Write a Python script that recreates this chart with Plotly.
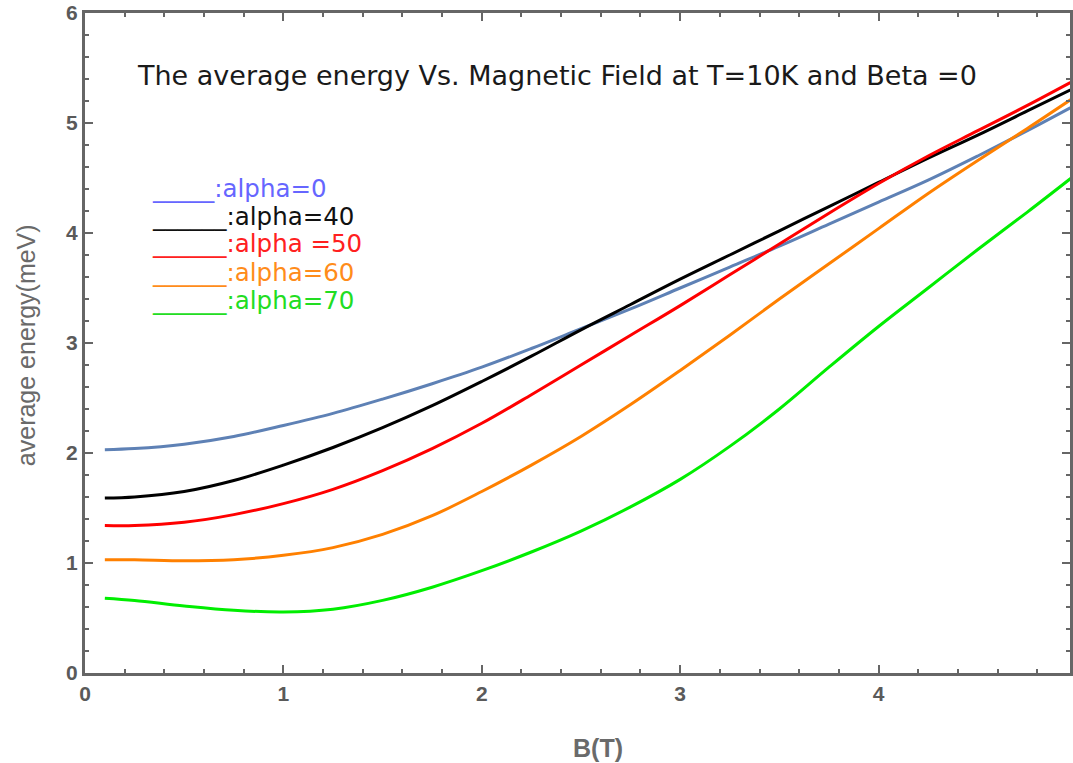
import plotly.graph_objects as go

# Magnetic field values (T)
B = [0.1, 0.25, 0.5, 0.75, 1.0, 1.25, 1.5, 1.75, 2.0, 2.25, 2.5,
     2.75, 3.0, 3.25, 3.5, 3.75, 4.0, 4.25, 4.5, 4.75, 5.0]

# Average energy (meV) for each alpha
E_alpha0 = [2.03, 2.04, 2.08, 2.15, 2.25, 2.36, 2.49, 2.63, 2.78, 2.95, 3.13,
            3.31, 3.50, 3.69, 3.88, 4.08, 4.28, 4.48, 4.70, 4.93, 5.17]
E_alpha40 = [1.59, 1.60, 1.65, 1.75, 1.89, 2.05, 2.23, 2.43, 2.65, 2.88, 3.12,
             3.35, 3.58, 3.80, 4.02, 4.24, 4.46, 4.68, 4.89, 5.11, 5.33]
E_alpha50 = [1.34, 1.34, 1.37, 1.44, 1.54, 1.67, 1.84, 2.04, 2.27, 2.53, 2.80,
             3.07, 3.34, 3.62, 3.90, 4.18, 4.45, 4.70, 4.93, 5.16, 5.40]
E_alpha60 = [1.03, 1.03, 1.02, 1.03, 1.07, 1.14, 1.26, 1.43, 1.65, 1.89, 2.15,
             2.44, 2.75, 3.07, 3.40, 3.72, 4.04, 4.36, 4.66, 4.95, 5.25]
E_alpha70 = [0.68, 0.66, 0.61, 0.57, 0.555, 0.58, 0.66, 0.78, 0.93, 1.10, 1.29,
             1.51, 1.76, 2.06, 2.40, 2.78, 3.15, 3.50, 3.85, 4.19, 4.54]

series = [
    (E_alpha0, "#5E81B5"),
    (E_alpha40, "#000000"),
    (E_alpha50, "#FF0000"),
    (E_alpha60, "#FF8000"),
    (E_alpha70, "#00EE00"),
]

legend_labels = ["_____:alpha=0", "______:alpha=40", "______:alpha =50",
                 "______:alpha=60", "______:alpha=70"]
legend_colors = ["#6666FF", "#111111", "#FF2020", "#FF8C1A", "#22DD22"]

x_ticks = [0, 1, 2, 3, 4]
y_ticks = [0, 1, 2, 3, 4, 5, 6]

fig = go.Figure()
for ys, col in series:
    fig.add_trace(go.Scatter(x=B, y=ys, mode="lines", line_shape="spline",
                             line=dict(color=col, width=3), showlegend=False))

frame = "#666666"
tickfont = dict(family="Liberation Sans, Arial, sans-serif", size=21,
                color="#5a5a5a", weight="bold")

fig.update_xaxes(range=[0, 4.965], tickvals=x_ticks, ticks="inside", ticklen=8,
                 tickwidth=2, tickcolor=frame, showline=True, linecolor=frame,
                 linewidth=3, mirror="allticks", showgrid=False, zeroline=False,
                 minor=dict(dtick=0.2, ticks="inside", ticklen=4, tickwidth=2,
                            tickcolor=frame),
                 tickfont=tickfont)
fig.update_yaxes(range=[0, 6], tickvals=y_ticks, ticks="inside", ticklen=8,
                 tickwidth=2, tickcolor=frame, showline=True, linecolor=frame,
                 linewidth=3, mirror="allticks", showgrid=False, zeroline=False,
                 minor=dict(dtick=0.2, ticks="inside", ticklen=4, tickwidth=2,
                            tickcolor=frame),
                 tickfont=tickfont)

# axis labels
fig.add_annotation(text="<b>B(T)</b>", xref="paper", yref="paper",
                   x=(600 - 85) / 988, y=(673 - 748) / 660,
                   xanchor="center", yanchor="middle", showarrow=False,
                   font=dict(family="Liberation Sans, Arial, sans-serif",
                             size=25, color="#6a6a6a"))
fig.add_annotation(text="average energy(meV)", xref="paper", yref="paper",
                   x=(26 - 85) / 988, y=(673 - 345) / 660, textangle=-90,
                   xanchor="center", yanchor="middle", showarrow=False,
                   font=dict(family="Liberation Sans, Arial, sans-serif",
                             size=25, color="#6a6a6a"))

fig.add_annotation(text="The average energy Vs. Magnetic Field at T=10K and Beta =0",
                   xref="paper", yref="paper", x=(135 - 85) / 988, y=(673 - 75) / 660,
                   xanchor="left", yanchor="middle", showarrow=False,
                   font=dict(family="DejaVu Sans, sans-serif", size=27,
                             color="#1a1a1a"))

for i, (lab, col) in enumerate(zip(legend_labels, legend_colors)):
    fig.add_annotation(text=lab, xref="paper", yref="paper",
                       x=(150 - 85) / 988, y=(673 - (188 + 28 * i)) / 660,
                       xanchor="left", yanchor="middle", showarrow=False,
                       font=dict(family="DejaVu Sans, sans-serif",
                                 size=24.5, color=col))

fig.update_layout(width=1073, height=763, plot_bgcolor="white",
                  paper_bgcolor="white",
                  margin=dict(l=85, r=0, t=13, b=90))

fig.write_html("out.html")
